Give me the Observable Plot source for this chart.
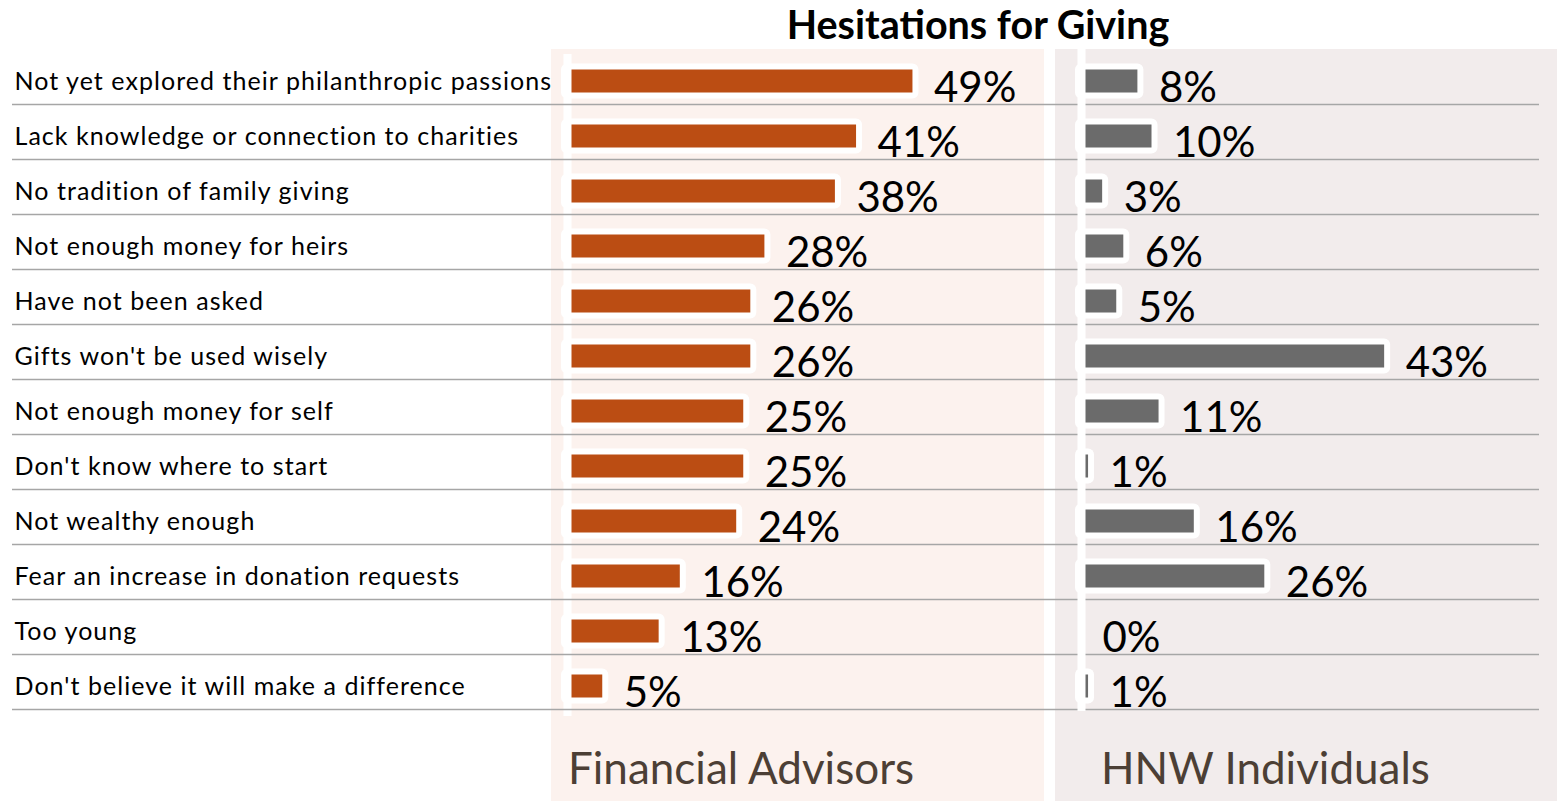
<!DOCTYPE html>
<html>
<head>
<meta charset="utf-8">
<script src="https://cdn.jsdelivr.net/npm/d3@7"></script>
<script src="https://cdn.jsdelivr.net/npm/@observablehq/plot@0.6"></script>
<style>
  html, body { margin: 0; padding: 0; background: #ffffff; }
  #wrap { position: relative; width: 1557px; height: 801px; overflow: hidden; font-family: Lato, sans-serif; }
  .bg { position: absolute; top: 49px; bottom: 0; }
  .title { position: absolute; left: 0; width: 1956px; top: 4px; text-align: center; font-weight: 700; font-size: 39.5px; line-height: 39.5px; color: #000; white-space: nowrap; }
  .panel-label { position: absolute; top: 745px; font-size: 44px; line-height: 44px; color: #4c3f35; white-space: nowrap; }
  svg.plotlayer { position: absolute; left: 0; top: 0; }
  g.catlabels text { letter-spacing: 1.05px; }
</style>
</head>
<body>
<div id="wrap">
  <div class="bg" style="left:551px;width:493px;background:#fcf2ee;"></div>
  <div class="bg" style="left:1055px;width:502px;background:#f2ecec;"></div>
  <div class="title">Hesitations for Giving</div>
  <div class="panel-label" style="left:568px;">Financial Advisors</div>
  <div class="panel-label" style="left:1101px;">HNW Individuals</div>
</div>
<script>
const categories = [
  "Not yet explored their philanthropic passions",
  "Lack knowledge or connection to charities",
  "No tradition of family giving",
  "Not enough money for heirs",
  "Have not been asked",
  "Gifts won't be used wisely",
  "Not enough money for self",
  "Don't know where to start",
  "Not wealthy enough",
  "Fear an increase in donation requests",
  "Too young",
  "Don't believe it will make a difference"
];
const advisorValues = [49, 41, 38, 28, 26, 26, 25, 25, 24, 16, 13, 5];
const hnwValues = [8, 10, 3, 6, 5, 43, 11, 1, 16, 26, 0, 1];

const advisors = categories.map((c, i) => ({category: c, value: advisorValues[i]}));
const hnw = categories.map((c, i) => ({category: c, value: hnwValues[i]}));

const W = 1557, H = 801;
const pxPerPct = 7.05;
const yScale = {domain: categories, range: [53.5, 713.5], padding: 0, round: false, axis: null};
const baseStyle = {fontFamily: "Lato, sans-serif", background: "transparent", overflow: "visible"};

function panelMarks(data, color, axisTop, axisBottom, withRules) {
  return [
    Plot.barX(data, {x: "value", y: "category", fill: color, insetTop: 16, insetBottom: 16,
      stroke: "white", strokeWidth: 12, strokeLinejoin: "round", paintOrder: "stroke"}),
    Plot.ruleX([0], {stroke: "white", strokeWidth: 8, insetTop: axisTop, insetBottom: axisBottom}),
    ...(withRules ? [Plot.ruleY(categories, {y: d => d, dy: 23, stroke: "#a6a6a6", strokeWidth: 1.3})] : []),
    Plot.text(data, {x: "value", y: "category", text: d => d.value + "%", dx: 21, dy: 7,
      textAnchor: "start", fontSize: 42, fill: "black"})
  ];
}

const left = Plot.plot({
  width: W, height: H,
  marginLeft: 12, marginRight: 18, marginTop: 0, marginBottom: 0,
  style: baseStyle,
  x: {domain: [0, 70], range: [567, 567 + 70 * pxPerPct], axis: null},
  y: yScale,
  marks: [
    ...panelMarks(advisors, "#bb4d13", 54, 85, true),
    Plot.text(categories, {y: d => d, text: d => d, frameAnchor: "left", dx: 2, textAnchor: "start", fontSize: 25, fill: "black", ariaLabel: "category labels"})
  ]
});

const right = Plot.plot({
  width: W, height: H,
  marginLeft: 12, marginRight: 18, marginTop: 0, marginBottom: 0,
  style: baseStyle,
  x: {domain: [0, 70], range: [1081, 1081 + 70 * pxPerPct], axis: null},
  y: yScale,
  marks: panelMarks(hnw, "#6b6b6b", 49, 90, false)
});

const textGroups = left.querySelectorAll('g[aria-label="text"]');
if (textGroups.length) textGroups[textGroups.length - 1].classList.add("catlabels");

left.classList.add("plotlayer");
right.classList.add("plotlayer");
const wrap = document.getElementById("wrap");
wrap.appendChild(left);
wrap.appendChild(right);
</script>
</body>
</html>
